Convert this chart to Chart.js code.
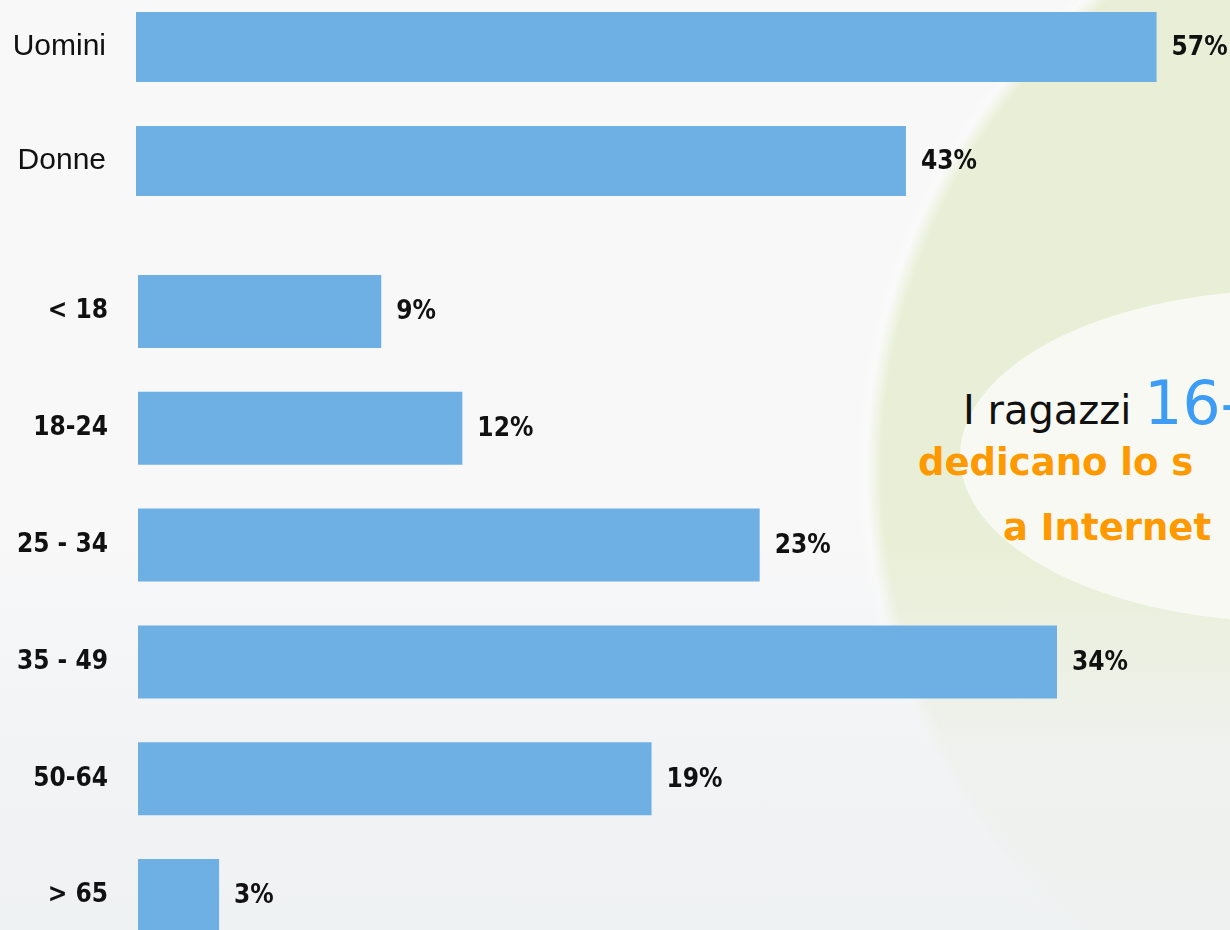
<!DOCTYPE html>
<html>
<head>
<meta charset="utf-8">
<script src="https://cdn.jsdelivr.net/npm/chart.js@4/dist/chart.umd.min.js"></script>
<style>
	html, body { margin: 0; padding: 0; width: 1230px; height: 930px; overflow: hidden; }
	body {
		position: relative;
		background: #f8f8f9;
	}
	#bg {
		position: absolute; left: 0; top: 0; width: 1230px; height: 930px;
		background:
			radial-gradient(circle 625px at 1482px 470px, rgba(233,239,214,1) 0%, rgba(233,239,214,1) 96%, rgba(250,250,250,1) 98.5%, rgba(248,248,249,0) 100%),
			#f8f8f9;
	}
	#bgfade {
		position: absolute; left: 0; top: 0; width: 1230px; height: 930px;
		background: linear-gradient(to bottom, rgba(248,248,249,0) 0%, rgba(248,248,249,0) 58%, rgba(240,242,243,0.8) 80%, rgba(238,241,242,0.9) 100%);
	}
	#bubble {
		position: absolute; left: 960px; top: 290px; width: 660px; height: 332px;
		border-radius: 50%;
		background: #f8f9f3;
	}
	.chartbox { position: absolute; left: 0; width: 1230px; }
	#genderbox { top: -10px; height: 228px; }
	#agebox { top: 253px; height: 701px; }
	.caption { position: absolute; white-space: nowrap; font-family: "DejaVu Sans", sans-serif; }
	#line1 { left: 963px; top: 368px; font-size: 40px; color: #111111; }
	#line1 span { font-size: 60px; color: #3d9cf5; }
	#line2 { left: 918px; top: 441px; font-size: 37px; font-weight: bold; color: #ff9900; }
	#line3 { left: 1003px; top: 506px; font-size: 37px; font-weight: bold; color: #ff9900; }
</style>
</head>
<body>
<div id="bg"></div>
<div id="bgfade"></div>
<div id="bubble"></div>
<div class="caption" id="line1">I ragazzi <span>16-</span></div>
<div class="caption" id="line2">dedicano lo s</div>
<div class="caption" id="line3">a Internet</div>
<div class="chartbox" id="genderbox"><canvas id="gender-chart"></canvas></div>
<div class="chartbox" id="agebox"><canvas id="age-chart"></canvas></div>

<script>
// Data
const genderLabels = ['Uomini', 'Donne'];
const genderValues = [57, 43];

const ageLabels = ['< 18', '18-24', '25 - 34', '35 - 49', '50-64', '> 65'];
const ageValues = [9, 12, 23, 34, 19, 3];

const barColour = '#6eb0e4';

// Plugin to write the percentage just after the end of each bar
const valueLabels = {
	id: 'valueLabels',
	afterDatasetsDraw (chart) {
		const ctx = chart.ctx;
		const meta = chart.getDatasetMeta(0);
		ctx.save();
		ctx.font = 'bold 26px "DejaVu Sans Condensed", "Liberation Sans Narrow", sans-serif';
		ctx.fillStyle = '#111111';
		ctx.textAlign = 'left';
		ctx.textBaseline = 'middle';
		meta.data.forEach((bar, i) => {
			ctx.fillText(chart.data.datasets[0].data[i] + '%', bar.x + 15, bar.y + 1);
		});
		ctx.restore();
	}
};

// Function to render one horizontal bar chart
function renderChart (canvasId, labels, values, xMax, axisWidth, barPercentage, tickFont)
{
	return new Chart(document.getElementById(canvasId).getContext('2d'), {
		type: 'bar',
		data: {
			labels: labels,
			datasets: [{
				data: values,
				backgroundColor: barColour,
				borderWidth: 0,
				categoryPercentage: 1,
				barPercentage: barPercentage
			}]
		},
		options: {
			indexAxis: 'y',
			responsive: true,
			maintainAspectRatio: false,
			animation: false,
			layout: { padding: 0 },
			plugins: {
				legend: { display: false },
				tooltip: { enabled: false }
			},
			scales: {
				x: {
					display: false,
					min: 0,
					max: xMax
				},
				y: {
					grid: { display: false, drawTicks: false },
					border: { display: false },
					ticks: {
						padding: 30,
						color: '#111111',
						font: tickFont
					},
					// Fixed axis width, and no extra room above / below the bars
					afterFit: (scale) => {
						scale.width = axisWidth;
						scale.paddingTop = 0;
						scale.paddingBottom = 0;
					}
				}
			}
		},
		plugins: [valueLabels]
	});
}

renderChart('gender-chart', genderLabels, genderValues, 61.1, 136, 0.614,
	{ family: '"Liberation Sans", Arial, sans-serif', size: 30, weight: 'normal' });

renderChart('age-chart', ageLabels, ageValues, 40.4, 138, 0.625,
	{ family: '"DejaVu Sans Condensed", "Liberation Sans Narrow", sans-serif', size: 26, weight: 'bold' });
</script>
</body>
</html>
